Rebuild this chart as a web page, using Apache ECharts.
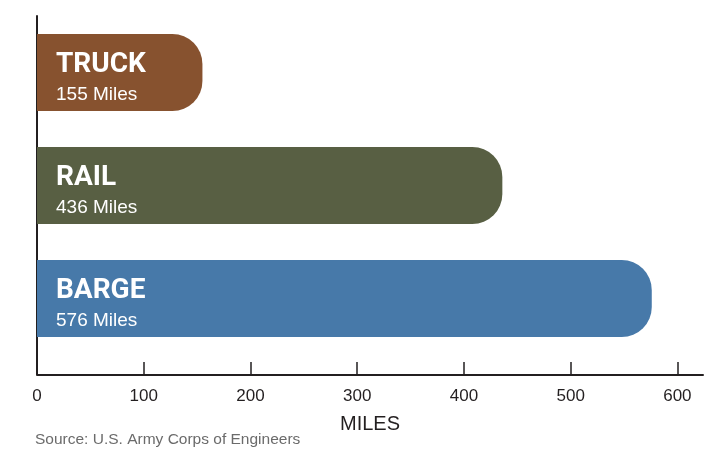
<!DOCTYPE html>
<html>
<head>
<meta charset="utf-8">
<script src="https://cdn.jsdelivr.net/npm/echarts@6/dist/echarts.min.js"></script>
<style>
html,body{margin:0;padding:0;background:#fff;}
#c{width:725px;height:452px;}
</style>
</head>
<body>
<div id="c"></div>
<script>
const categories = ['TRUCK', 'RAIL', 'BARGE'];
const miles = [155, 436, 576];
const barColors = ['#87522f', '#585f43', '#4779a9'];
const tickValues = [0, 100, 200, 300, 400, 500, 600];

const chart = echarts.init(document.getElementById('c'), null, {renderer: 'canvas'});
const option = {
  animation: false,
  backgroundColor: '#ffffff',
  title: {
    text: 'Source: U.S. Army Corps of Engineers',
    left: 35, top: 432, padding: 0,
    textStyle: {fontFamily: 'Liberation Sans, Arial, sans-serif', fontSize: 15.5, fontWeight: 'normal', color: '#6b6b6b'}
  },
  grid: {left: 37, right: 22, top: 16, height: 339},
  xAxis: {
    type: 'value', min: 0, max: 624, offset: 20,
    splitLine: {show: false},
    axisLine: {show: true, lineStyle: {color: '#231f20', width: 2}},
    axisTick: {show: true, inside: true, length: 13, customValues: tickValues, lineStyle: {color: '#231f20', width: 1.5}},
    axisLabel: {customValues: tickValues, margin: 13, fontFamily: 'Liberation Sans, Arial, sans-serif', fontSize: 17, color: '#231f20'},
    name: 'MILES', nameLocation: 'middle', nameGap: 39,
    nameTextStyle: {fontFamily: 'Liberation Sans, Arial, sans-serif', fontSize: 20, color: '#231f20'}
  },
  yAxis: {
    type: 'category', inverse: true, data: categories,
    axisLine: {show: true, lineStyle: {color: '#231f20', width: 2}},
    axisTick: {show: false}, axisLabel: {show: false}
  },
  graphic: [{
    type: 'line', z: 10,
    shape: {x1: 37, y1: 354, x2: 37, y2: 375},
    style: {stroke: '#231f20', lineWidth: 2}
  }],
  series: [{
    type: 'bar',
    barWidth: 77,
    data: miles.map((v, i) => ({value: v, itemStyle: {color: barColors[i]}})),
    itemStyle: {borderRadius: [0, 30, 30, 0]},
    label: {
      show: true, position: 'insideLeft', distance: 19, offset: [0, 4],
      formatter: (p) => '{n|' + categories[p.dataIndex] + '}\n{v|' + p.value + ' Miles}',
      rich: {
        n: {fontFamily: 'Roboto', fontWeight: 'bold', fontSize: 28, lineHeight: 36, color: '#ffffff'},
        v: {fontFamily: 'Liberation Sans, Arial, sans-serif', fontSize: 19, lineHeight: 24, color: '#ffffff'}
      }
    }
  }]
};
chart.setOption(option);
</script>
</body>
</html>
